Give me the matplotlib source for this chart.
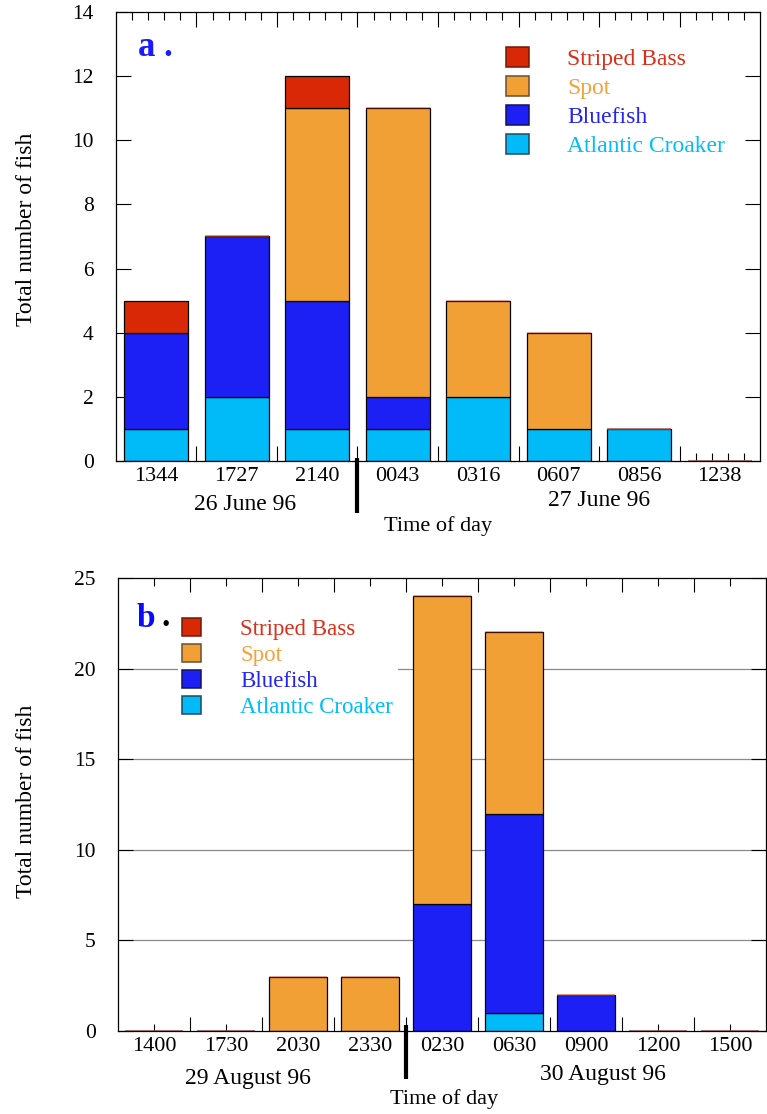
import matplotlib
matplotlib.use("Agg")
import numpy as np
import matplotlib.pyplot as plt
from matplotlib.patches import Patch
from matplotlib.colors import to_rgba
from matplotlib.transforms import blended_transform_factory

plt.rcParams['font.family'] = ['Liberation Serif', 'DejaVu Serif']

# ---- data -------------------------------------------------------------
species = ["Atlantic Croaker", "Bluefish", "Spot", "Striped Bass"]   # stacking order, bottom -> top

fill_colors = {"Atlantic Croaker": "#00bbf8", "Bluefish": "#1c20f5",
               "Spot": "#f0a035", "Striped Bass": "#d92805"}
text_colors = {"Atlantic Croaker": "#00bef8", "Bluefish": "#2424f0",
               "Spot": "#f2a33c", "Striped Bass": "#d9301a"}
legend_edges = {"Atlantic Croaker": "#1d4a5c", "Bluefish": "#12125a",
                "Spot": "#6a5030", "Striped Bass": "#6e1a0a"}

june_times = ["1344", "1727", "2140", "0043", "0316", "0607", "0856", "1238"]
june_croaker = [1, 2, 1, 1, 2, 1, 1, 0]
june_bluefish = [3, 5, 4, 1, 0, 0, 0, 0]
june_spot = [0, 0, 6, 9, 3, 3, 0, 0]
june_bass = [1, 0, 1, 0, 0, 0, 0, 0]

aug_times = ["1400", "1730", "2030", "2330", "0230", "0630", "0900", "1200", "1500"]
aug_croaker = [0, 0, 0, 0, 0, 1, 0, 0, 0]
aug_bluefish = [0, 0, 0, 0, 7, 11, 2, 0, 0]
aug_spot = [0, 0, 3, 3, 17, 10, 0, 0, 0]
aug_bass = [0, 0, 0, 0, 0, 0, 0, 0, 0]

june_counts = {"Atlantic Croaker": june_croaker, "Bluefish": june_bluefish,
               "Spot": june_spot, "Striped Bass": june_bass}
aug_counts = {"Atlantic Croaker": aug_croaker, "Bluefish": aug_bluefish,
              "Spot": aug_spot, "Striped Bass": aug_bass}


def draw_stack(ax, counts, width=0.8):
    n = len(next(iter(counts.values())))
    x = np.arange(n)
    bottom = np.zeros(n)
    for sp in species:
        vals = np.asarray(counts[sp], dtype=float)
        edges = ['black' if v > 0 else to_rgba(fill_colors[sp], 0.4) for v in vals]
        lws = [0.9 if v > 0 else 1.2 for v in vals]
        ax.bar(x, vals, width, bottom=bottom, color=fill_colors[sp],
               edgecolor=edges, linewidth=lws, zorder=2)
        bottom += vals
    return n


def style_axes(ax, labels, ymax, ystep, fine, maj_len, min_len, label_pad):
    n = len(labels)
    ax.set_xlim(-0.5, n - 0.5)
    ax.set_ylim(0, ymax)
    bounds = np.arange(1, n) - 0.5
    ax.set_xticks(bounds)
    ax.set_xticks(fine, minor=True)
    ax.tick_params(axis='x', which='both', direction='in', top=True, bottom=True,
                   labelbottom=False, width=0.8, color='black')
    ax.tick_params(axis='x', which='major', length=maj_len)
    ax.tick_params(axis='x', which='minor', length=min_len)
    ax.set_yticks(np.arange(0, ymax + ystep / 2, ystep))
    ax.tick_params(axis='y', which='major', direction='in', left=True, right=True,
                   length=10.8, width=0.8, labelsize=15.5, pad=16)
    for s in ax.spines.values():
        s.set_linewidth(0.9)
    sec = ax.secondary_xaxis('bottom')
    sec.set_xticks(np.arange(n), labels)
    sec.tick_params(length=0, labelsize=16, pad=label_pad)
    sec.spines['bottom'].set_visible(False)
    return sec


def legend_handles():
    order = list(reversed(species))
    hs = [Patch(facecolor=fill_colors[s], edgecolor=legend_edges[s], linewidth=1.1, label=s)
          for s in order]
    return hs, [text_colors[s] for s in order]


fig = plt.figure(figsize=(7.67, 11.14), dpi=100)

# ---- panel a: 26-27 June 1996 -----------------------------------------
ax1 = fig.add_axes([0.1512, 0.5862, 0.8397, 0.4031])
draw_stack(ax1, june_counts)
fine_a = [c + o for c in range(len(june_times)) for o in (-0.3, -0.1, 0.1, 0.3)]
style_axes(ax1, june_times, 14, 2, fine_a, 10.8, 5.6, 4)
ax1.set_ylabel("Total number of fish", fontsize=17)
ax1.yaxis.set_label_coords(-0.123, 0.517)

hs, tcols = legend_handles()
ax1.legend(handles=hs, loc='upper left', bbox_to_anchor=(0.6056, 0.921), frameon=False,
           fontsize=17, handlelength=0.98, handleheight=0.9, handletextpad=1.6,
           labelspacing=0.25, borderpad=0, borderaxespad=0, labelcolor=tcols)

ax1.text(0.034, 0.902, "a .", transform=ax1.transAxes, fontsize=25, fontweight='bold',
         color='#1a1aff', va='baseline', ha='left')

tr1 = blended_transform_factory(ax1.transData, ax1.transAxes)
ax1.plot([2.5, 2.5], [0.007, -0.116], transform=tr1, color='black', lw=3.0,
         clip_on=False, solid_capstyle='butt')
ax1.text(1.1, -0.098, "26 June 96", transform=tr1, fontsize=17, ha='center', va='center')
ax1.text(5.5, -0.087, "27 June 96", transform=tr1, fontsize=17, ha='center', va='center')
ax1.text(3.5, -0.145, "Time of day", transform=tr1, fontsize=16, ha='center', va='center')

# ---- panel b: 29-30 August 1996 ---------------------------------------
ax2 = fig.add_axes([0.1538, 0.0745, 0.8449, 0.4067])
draw_stack(ax2, aug_counts)
fine_b = list(range(len(aug_times)))
style_axes(ax2, aug_times, 25, 5, fine_b, 10.0, 5.4, 4)
for yv in ax2.get_yticks()[1:-1]:
    ax2.axhline(yv, color='#8a8a8a', lw=0.9, zorder=0.5)
ax2.set_ylabel("Total number of fish", fontsize=17)
ax2.yaxis.set_label_coords(-0.125, 0.508)

hs, tcols = legend_handles()
leg2 = ax2.legend(handles=hs, loc='upper left', bbox_to_anchor=(0.092, 0.921), frameon=True,
                  fancybox=False, framealpha=1.0, facecolor='white', edgecolor='none',
                  fontsize=16.5, handlelength=0.83, handleheight=0.83, handletextpad=1.7,
                  labelspacing=0.17, borderpad=0.2, borderaxespad=0, labelcolor=tcols)
leg2.set_zorder(5)

ax2.text(0.028, 0.892, "b", transform=ax2.transAxes, fontsize=24, fontweight='bold',
         color='#0a0aff', va='baseline', ha='left')
ax2.text(0.074, 0.895, ".", transform=ax2.transAxes, fontsize=24, fontweight='bold',
         color='black', va='baseline', ha='center')

tr2 = blended_transform_factory(ax2.transData, ax2.transAxes)
ax2.plot([3.5, 3.5], [0.013, -0.106], transform=tr2, color='black', lw=3.0,
         clip_on=False, solid_capstyle='butt')
ax2.text(1.3, -0.104, "29 August 96", transform=tr2, fontsize=17, ha='center', va='center')
ax2.text(6.24, -0.095, "30 August 96", transform=tr2, fontsize=17, ha='center', va='center')
ax2.text(4.03, -0.150, "Time of day", transform=tr2, fontsize=16, ha='center', va='center')

fig.savefig("out.png", dpi=100)
